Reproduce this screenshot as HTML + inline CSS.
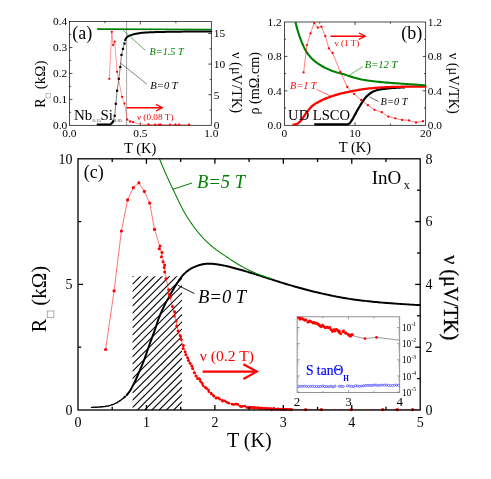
<!DOCTYPE html>
<html><head><meta charset="utf-8"><title>figure</title>
<style>
html,body{margin:0;padding:0;background:#fff;}
body{width:491px;height:479px;overflow:hidden;font-family:"Liberation Serif",serif;}
svg{display:block;font-family:"Liberation Serif",serif;opacity:0.999;will-change:transform;}
</style></head><body>
<svg width="491" height="479" viewBox="0 0 491 479">
<rect width="491" height="479" fill="#fff"/>
<rect x="69.4" y="21.5" width="141.9" height="103.8" fill="none" stroke="#000" stroke-width="0.7"/>
<line x1="140.35" y1="125.3" x2="140.35" y2="122.3" stroke="#000" stroke-width="0.7" />
<line x1="104.88" y1="125.3" x2="104.88" y2="123.6" stroke="#000" stroke-width="0.7" />
<line x1="175.83" y1="125.3" x2="175.83" y2="123.6" stroke="#000" stroke-width="0.7" />
<line x1="140.35" y1="21.5" x2="140.35" y2="24.5" stroke="#000" stroke-width="0.7" />
<line x1="104.88" y1="21.5" x2="104.88" y2="23.2" stroke="#000" stroke-width="0.7" />
<line x1="175.83" y1="21.5" x2="175.83" y2="23.2" stroke="#000" stroke-width="0.7" />
<line x1="69.4" y1="99.35" x2="72.4" y2="99.35" stroke="#000" stroke-width="0.7" />
<line x1="69.4" y1="73.4" x2="72.4" y2="73.4" stroke="#000" stroke-width="0.7" />
<line x1="69.4" y1="47.45" x2="72.4" y2="47.45" stroke="#000" stroke-width="0.7" />
<line x1="69.4" y1="112.33" x2="71.1" y2="112.33" stroke="#000" stroke-width="0.7" />
<line x1="69.4" y1="86.38" x2="71.1" y2="86.38" stroke="#000" stroke-width="0.7" />
<line x1="69.4" y1="60.42" x2="71.1" y2="60.42" stroke="#000" stroke-width="0.7" />
<line x1="69.4" y1="34.48" x2="71.1" y2="34.48" stroke="#000" stroke-width="0.7" />
<line x1="211.3" y1="94.7" x2="208.3" y2="94.7" stroke="#000" stroke-width="0.7" />
<line x1="211.3" y1="64.1" x2="208.3" y2="64.1" stroke="#000" stroke-width="0.7" />
<line x1="211.3" y1="33.5" x2="208.3" y2="33.5" stroke="#000" stroke-width="0.7" />
<line x1="211.3" y1="110" x2="209.6" y2="110" stroke="#000" stroke-width="0.7" />
<line x1="211.3" y1="79.4" x2="209.6" y2="79.4" stroke="#000" stroke-width="0.7" />
<line x1="211.3" y1="48.8" x2="209.6" y2="48.8" stroke="#000" stroke-width="0.7" />
<text x="67.2" y="129.1" font-size="11.4" fill="#000" text-anchor="end"  >0.0</text>
<text x="67.2" y="103.15" font-size="11.4" fill="#000" text-anchor="end"  >0.1</text>
<text x="67.2" y="77.2" font-size="11.4" fill="#000" text-anchor="end"  >0.2</text>
<text x="67.2" y="51.25" font-size="11.4" fill="#000" text-anchor="end"  >0.3</text>
<text x="67.2" y="25.3" font-size="11.4" fill="#000" text-anchor="end"  >0.4</text>
<text x="69.4" y="137.4" font-size="11.4" fill="#000" text-anchor="middle"  >0.0</text>
<text x="140.35" y="137.4" font-size="11.4" fill="#000" text-anchor="middle"  >0.5</text>
<text x="211.3" y="137.4" font-size="11.4" fill="#000" text-anchor="middle"  >1.0</text>
<text x="213.8" y="129.1" font-size="11.4" fill="#000" text-anchor="start"  >0</text>
<text x="213.8" y="98.5" font-size="11.4" fill="#000" text-anchor="start"  >5</text>
<text x="213.8" y="67.9" font-size="11.4" fill="#000" text-anchor="start"  >10</text>
<text x="213.8" y="37.3" font-size="11.4" fill="#000" text-anchor="start"  >15</text>
<text x="140.2" y="152.6" font-size="14.5" fill="#000" text-anchor="middle"  >T (K)</text>
<g transform="translate(44.8,107.7) rotate(-90)"><text x="0" y="0" font-size="14">R</text><rect x="9.8" y="1.2" width="4.6" height="4.6" fill="none" stroke="#999" stroke-width="0.6"/><text x="18.5" y="0" font-size="14.3" textLength="28.6" lengthAdjust="spacingAndGlyphs">(kΩ)</text></g>
<g transform="translate(231.6,52) rotate(90)"><text x="0" y="0" font-size="14.4">ν (μV/TK)</text></g>
<line x1="126.6" y1="21.5" x2="126.6" y2="125.3" stroke="#000" stroke-width="0.6" stroke-dasharray="1.2,0.8"/>
<path d="M97.1,29.2 L211.3,29.5" stroke="#008000" stroke-width="1.7" fill="none" />
<path d="M125.1,40.3 L125.64,38.88 L126.5,37.65 L127.63,36.69 L128.95,35.94 L130.35,35.34 L131.76,34.85 L133.2,34.4 L134.67,34.02 L136.15,33.7 L137.62,33.45 L139.11,33.22 L140.6,33.02 L142.1,32.85 L143.6,32.7 L145.1,32.59 L146.6,32.5 L148.1,32.42 L149.61,32.35 L151.11,32.28 L152.61,32.22 L154.12,32.17 L155.62,32.12 L157.13,32.07 L158.64,32.03 L160.14,32 L161.64,31.96 L163.15,31.93 L164.65,31.9 L166.16,31.87 L167.66,31.84 L169.17,31.81 L170.67,31.79 L172.18,31.76 L173.68,31.74 L175.19,31.72 L176.69,31.7 L178.19,31.68 L179.7,31.66 L181.2,31.64 L182.71,31.62 L184.21,31.61 L185.72,31.59 L187.22,31.58 L188.73,31.56 L190.23,31.55 L191.74,31.53 L193.24,31.52 L194.75,31.51 L196.25,31.49 L197.76,31.48 L199.26,31.47 L200.77,31.46 L202.27,31.45 L203.78,31.44 L205.28,31.43 L206.79,31.42 L208.29,31.41 L209.8,31.41 L211.3,31.4" stroke="#000" stroke-width="2.0" fill="none" stroke-linecap="round"/>
<path d="M112,124.3 L113.1,121.4 L114.7,115.8 L115.8,103.8 L117.1,90.7 L118.8,78.8 L120.3,67 L121.5,54.9 L123,48.9 L124.5,43.5" stroke="#000" stroke-width="0.5" fill="none" />
<rect x="112" y="120.3" width="2.2" height="2.2" fill="#000"/>
<rect x="113.6" y="114.7" width="2.2" height="2.2" fill="#000"/>
<rect x="114.7" y="102.7" width="2.2" height="2.2" fill="#000"/>
<rect x="116" y="89.6" width="2.2" height="2.2" fill="#000"/>
<rect x="117.7" y="77.7" width="2.2" height="2.2" fill="#000"/>
<rect x="119.2" y="65.9" width="2.2" height="2.2" fill="#000"/>
<rect x="120.4" y="53.8" width="2.2" height="2.2" fill="#000"/>
<rect x="121.9" y="47.8" width="2.2" height="2.2" fill="#000"/>
<rect x="123.4" y="42.4" width="2.2" height="2.2" fill="#000"/>
<path d="M96.8,124.4 L110.5,124.4 L113.2,121.5" stroke="#000" stroke-width="2.0" fill="none" stroke-linejoin="round"/>
<path d="M109.3,78.8 L111.8,31.8 L113.1,45.1 L114.7,41.6 L117.1,71.8 L122,96.8 L124.5,103.6 L127.2,119.6 L130.2,121.5 L133.1,122.2 L138,123.5 L143,124.2 L148.5,124.5 L155.2,124.6 L158.9,124.6 L160.7,124.6 L169.9,124.7 L175.4,124.7 L179.1,124.7 L189.1,124.7" stroke="#ff0000" stroke-width="0.4" fill="none" />
<circle cx="109.3" cy="78.8" r="1.15" fill="#ff0000"/>
<circle cx="111.8" cy="31.8" r="1.15" fill="#ff0000"/>
<circle cx="113.1" cy="45.1" r="1.15" fill="#ff0000"/>
<circle cx="114.7" cy="41.6" r="1.15" fill="#ff0000"/>
<circle cx="117.1" cy="71.8" r="1.15" fill="#ff0000"/>
<circle cx="122" cy="96.8" r="1.15" fill="#ff0000"/>
<circle cx="124.5" cy="103.6" r="1.15" fill="#ff0000"/>
<circle cx="127.2" cy="119.6" r="1.15" fill="#ff0000"/>
<circle cx="130.2" cy="121.5" r="1.15" fill="#ff0000"/>
<circle cx="133.1" cy="122.2" r="1.15" fill="#ff0000"/>
<circle cx="148.5" cy="124.5" r="1.15" fill="#ff0000"/>
<circle cx="155.2" cy="124.6" r="1.15" fill="#ff0000"/>
<circle cx="158.9" cy="124.6" r="1.15" fill="#ff0000"/>
<circle cx="160.7" cy="124.6" r="1.15" fill="#ff0000"/>
<circle cx="169.9" cy="124.7" r="1.15" fill="#ff0000"/>
<circle cx="175.4" cy="124.7" r="1.15" fill="#ff0000"/>
<circle cx="179.1" cy="124.7" r="1.15" fill="#ff0000"/>
<circle cx="189.1" cy="124.7" r="1.15" fill="#ff0000"/>
<line x1="122.8" y1="30" x2="145.3" y2="50.4" stroke="#008000" stroke-width="0.6" />
<line x1="120.4" y1="63" x2="147" y2="84.2" stroke="#333" stroke-width="0.6" />
<text x="149.6" y="54.7" font-size="10.2" fill="#008000" text-anchor="start" font-style="italic" >B=1.5 T</text>
<text x="150.3" y="89.2" font-size="10.6" fill="#000" text-anchor="start" font-style="italic" >B=0 T</text>
<text x="136.9" y="119.6" font-size="9.2" fill="#ff0000" text-anchor="start"  >ν (0.08 T)</text>
<line x1="126.6" y1="107.7" x2="161.4" y2="107.7" stroke="#ff0000" stroke-width="1.5" />
<path d="M156,104.4 L162.3,107.7 L156,111" stroke="#ff0000" stroke-width="1.3" fill="none" />
<text x="72.3" y="38.6" font-size="18" fill="#000" text-anchor="start"  >(a)</text>
<text x="74" y="120.3" font-size="15">Nb<tspan font-size="4.9" dy="1.2" dx="0.1" fill="#333">0.15</tspan><tspan dy="-1.2" dx="-0.6">Si</tspan><tspan font-size="4.9" dy="1.2" dx="0.9" fill="#333">0.85</tspan></text>
<rect x="284.4" y="22" width="141.3" height="103.3" fill="none" stroke="#000" stroke-width="0.7"/>
<line x1="355.05" y1="125.3" x2="355.05" y2="122.3" stroke="#000" stroke-width="0.7" />
<line x1="319.72" y1="125.3" x2="319.72" y2="123.6" stroke="#000" stroke-width="0.7" />
<line x1="390.38" y1="125.3" x2="390.38" y2="123.6" stroke="#000" stroke-width="0.7" />
<line x1="355.05" y1="22" x2="355.05" y2="25" stroke="#000" stroke-width="0.7" />
<line x1="319.72" y1="22" x2="319.72" y2="23.7" stroke="#000" stroke-width="0.7" />
<line x1="390.38" y1="22" x2="390.38" y2="23.7" stroke="#000" stroke-width="0.7" />
<line x1="284.4" y1="90.87" x2="287.4" y2="90.87" stroke="#000" stroke-width="0.7" />
<line x1="284.4" y1="56.43" x2="287.4" y2="56.43" stroke="#000" stroke-width="0.7" />
<line x1="284.4" y1="108.08" x2="286.1" y2="108.08" stroke="#000" stroke-width="0.7" />
<line x1="284.4" y1="73.65" x2="286.1" y2="73.65" stroke="#000" stroke-width="0.7" />
<line x1="284.4" y1="39.22" x2="286.1" y2="39.22" stroke="#000" stroke-width="0.7" />
<line x1="425.7" y1="90.87" x2="422.7" y2="90.87" stroke="#000" stroke-width="0.7" />
<line x1="425.7" y1="56.43" x2="422.7" y2="56.43" stroke="#000" stroke-width="0.7" />
<line x1="425.7" y1="108.08" x2="424" y2="108.08" stroke="#000" stroke-width="0.7" />
<line x1="425.7" y1="73.65" x2="424" y2="73.65" stroke="#000" stroke-width="0.7" />
<line x1="425.7" y1="39.22" x2="424" y2="39.22" stroke="#000" stroke-width="0.7" />
<text x="281.8" y="129.1" font-size="11.4" fill="#000" text-anchor="end"  >0.0</text>
<text x="427.8" y="129.1" font-size="11.4" fill="#000" text-anchor="start"  >0.0</text>
<text x="281.8" y="94.67" font-size="11.4" fill="#000" text-anchor="end"  >0.4</text>
<text x="427.8" y="94.67" font-size="11.4" fill="#000" text-anchor="start"  >0.4</text>
<text x="281.8" y="60.23" font-size="11.4" fill="#000" text-anchor="end"  >0.8</text>
<text x="427.8" y="60.23" font-size="11.4" fill="#000" text-anchor="start"  >0.8</text>
<text x="281.8" y="25.8" font-size="11.4" fill="#000" text-anchor="end"  >1.2</text>
<text x="427.8" y="25.8" font-size="11.4" fill="#000" text-anchor="start"  >1.2</text>
<text x="284.4" y="137.4" font-size="11.4" fill="#000" text-anchor="middle"  >0</text>
<text x="355.05" y="137.4" font-size="11.4" fill="#000" text-anchor="middle"  >10</text>
<text x="425.7" y="137.4" font-size="11.4" fill="#000" text-anchor="middle"  >20</text>
<text x="355" y="152.2" font-size="14.5" fill="#000" text-anchor="middle"  >T (K)</text>
<g transform="translate(258.6,114.6) rotate(-90)"><text x="0" y="0" font-size="14.2">ρ (mΩ.cm)</text></g>
<g transform="translate(449.4,52.7) rotate(90)"><text x="0" y="0" font-size="14.4">ν (μV/TK)</text></g>
<path d="M314.2,124.3 L315.67,124.3 L317.13,124.3 L318.58,124.3 L320.02,124.3 L321.45,124.3 L322.87,124.3 L324.28,124.3 L325.67,124.3 L327.06,124.3 L328.44,124.3 L329.82,124.3 L331.18,124.3 L332.53,124.3 L333.88,124.3 L335.22,124.3 L336.55,124.3 L337.88,124.3 L339.2,124.3 L340.52,124.3 L341.82,124.3 L343.13,124.3 L344.43,124.3 L345.72,124.3 L347.01,124.3 L348.31,124.11 L349.51,123.39 L350.41,122.45 L351.18,121.25 L351.91,120.07 L352.63,118.91 L353.31,117.74 L353.97,116.54 L354.62,115.33 L355.26,114.12 L355.9,112.91 L356.55,111.71 L357.21,110.51 L357.9,109.33 L358.61,108.16 L359.31,106.98 L360.02,105.8 L360.73,104.61 L361.46,103.43 L362.19,102.26 L362.95,101.11 L363.73,99.98 L364.54,98.9 L365.38,97.85 L366.26,96.85 L367.19,95.88 L368.21,94.94 L369.27,94.05 L370.38,93.23 L371.51,92.51 L372.7,91.84 L373.94,91.22 L375.22,90.69 L376.5,90.29 L377.81,89.96 L379.15,89.68 L380.51,89.43 L381.87,89.21 L383.22,89.01 L384.57,88.82 L385.92,88.64 L387.28,88.48 L388.64,88.33 L390,88.19 L391.36,88.08 L392.72,87.98 L394.08,87.89 L395.44,87.8 L396.81,87.72 L398.17,87.64 L399.53,87.57 L400.9,87.51 L402.27,87.46 L403.63,87.42 L405,87.4" stroke="#000" stroke-width="2.2" fill="none" stroke-linejoin="round"/>
<path d="M293.4,124.6 L295.24,124.38 L296.93,123.86 L298.53,122.87 L299.91,121.72 L301.1,120.44 L302.18,118.99 L303.2,117.43 L304.19,115.84 L305.22,114.29 L306.32,112.82 L307.46,111.37 L308.6,109.92 L309.79,108.49 L311.02,107.15 L312.32,105.94 L313.71,104.85 L315.2,103.83 L316.77,102.88 L318.39,101.98 L320.04,101.13 L321.69,100.33 L323.34,99.57 L325,98.84 L326.68,98.14 L328.39,97.48 L330.11,96.84 L331.83,96.24 L333.57,95.67 L335.31,95.13 L337.05,94.62 L338.81,94.14 L340.57,93.68 L342.34,93.24 L344.12,92.83 L345.9,92.43 L347.69,92.05 L349.47,91.68 L351.26,91.32 L353.04,90.96 L354.84,90.61 L356.63,90.28 L358.43,89.96 L360.23,89.65 L362.03,89.37 L363.83,89.11 L365.64,88.88 L367.44,88.67 L369.25,88.48 L371.07,88.29 L372.88,88.11 L374.7,87.95 L376.52,87.8 L378.33,87.66 L380.15,87.54 L381.97,87.43 L383.79,87.34 L385.61,87.25 L387.43,87.16 L389.25,87.08 L391.08,87.01 L392.9,86.94 L394.72,86.89 L396.54,86.84 L398.36,86.81 L400.19,86.78 L402.01,86.76 L403.83,86.74 L405.65,86.72 L407.47,86.7 L409.3,86.68 L411.12,86.67 L412.94,86.65 L414.76,86.64 L416.59,86.63 L418.41,86.62 L420.23,86.61 L422.05,86.6 L423.88,86.6 L425.7,86.6" stroke="#ff0000" stroke-width="2.3" fill="none" stroke-linecap="round"/>
<path d="M295.5,22 L295.94,23.97 L296.42,25.94 L296.93,27.89 L297.47,29.83 L298.04,31.76 L298.64,33.69 L299.29,35.61 L299.96,37.51 L300.67,39.41 L301.41,41.28 L302.19,43.14 L302.99,45 L303.83,46.86 L304.72,48.7 L305.67,50.48 L306.69,52.18 L307.82,53.82 L309.05,55.42 L310.39,56.98 L311.8,58.47 L313.26,59.89 L314.77,61.21 L316.31,62.43 L317.95,63.6 L319.65,64.71 L321.41,65.76 L323.19,66.76 L324.99,67.69 L326.79,68.57 L328.62,69.41 L330.49,70.19 L332.38,70.93 L334.28,71.62 L336.19,72.25 L338.13,72.81 L340.08,73.31 L342.04,73.81 L343.99,74.34 L345.92,74.94 L347.81,75.64 L349.72,76.31 L351.65,76.88 L353.59,77.44 L355.54,77.97 L357.5,78.48 L359.47,78.96 L361.44,79.41 L363.42,79.81 L365.4,80.16 L367.39,80.46 L369.38,80.74 L371.37,81 L373.37,81.25 L375.38,81.48 L377.39,81.69 L379.4,81.89 L381.41,82.09 L383.43,82.27 L385.44,82.45 L387.46,82.63 L389.47,82.8 L391.48,82.96 L393.49,83.12 L395.5,83.28 L397.51,83.42 L399.53,83.56 L401.54,83.69 L403.56,83.82 L405.57,83.95 L407.58,84.08 L409.6,84.21 L411.61,84.35 L413.63,84.49 L415.64,84.63 L417.65,84.78 L419.66,84.93 L421.68,85.09 L423.69,85.24 L425.7,85.4" stroke="#008000" stroke-width="2.1" fill="none" />
<path d="M303.6,72.4 L306.9,45.1 L310.5,33.4 L314.2,23.1 L317.8,27.7 L321.5,26.7 L325.3,36.2 L328.9,48.4 L332.6,53 L340.4,72 L347.3,87 L354.1,94 L361.1,100 L367.9,105.2 L374.4,109.8 L381.8,112.2 L388.3,116.6 L395.3,118.3 L402.1,119.9 L409,120.4 L416,122.5 L423,121.2" stroke="#ff0000" stroke-width="0.5" fill="none" />
<circle cx="303.6" cy="72.4" r="1.15" fill="#ff0000"/>
<circle cx="306.9" cy="45.1" r="1.15" fill="#ff0000"/>
<circle cx="310.5" cy="33.4" r="1.15" fill="#ff0000"/>
<circle cx="314.2" cy="23.1" r="1.15" fill="#ff0000"/>
<circle cx="317.8" cy="27.7" r="1.15" fill="#ff0000"/>
<circle cx="321.5" cy="26.7" r="1.15" fill="#ff0000"/>
<circle cx="325.3" cy="36.2" r="1.15" fill="#ff0000"/>
<circle cx="328.9" cy="48.4" r="1.15" fill="#ff0000"/>
<circle cx="332.6" cy="53" r="1.15" fill="#ff0000"/>
<circle cx="340.4" cy="72" r="1.15" fill="#ff0000"/>
<circle cx="347.3" cy="87" r="1.15" fill="#ff0000"/>
<circle cx="354.1" cy="94" r="1.15" fill="#ff0000"/>
<circle cx="361.1" cy="100" r="1.15" fill="#ff0000"/>
<circle cx="367.9" cy="105.2" r="1.15" fill="#ff0000"/>
<circle cx="374.4" cy="109.8" r="1.15" fill="#ff0000"/>
<circle cx="381.8" cy="112.2" r="1.15" fill="#ff0000"/>
<circle cx="388.3" cy="116.6" r="1.15" fill="#ff0000"/>
<circle cx="395.3" cy="118.3" r="1.15" fill="#ff0000"/>
<circle cx="402.1" cy="119.9" r="1.15" fill="#ff0000"/>
<circle cx="409" cy="120.4" r="1.15" fill="#ff0000"/>
<circle cx="416" cy="122.5" r="1.15" fill="#ff0000"/>
<circle cx="423" cy="121.2" r="1.15" fill="#ff0000"/>
<line x1="330.5" y1="36.2" x2="364.6" y2="36.2" stroke="#ff0000" stroke-width="1.4" />
<path d="M358.8,33 L365.4,36.2 L358.8,39.4" stroke="#ff0000" stroke-width="1.2" fill="none" />
<text x="334.6" y="45.5" font-size="9" fill="#ff0000" text-anchor="start"  >ν (1 T)</text>
<text x="364.7" y="67.9" font-size="10.6" fill="#008000" text-anchor="start" font-style="italic" >B=12 T</text>
<line x1="362.9" y1="66.6" x2="348" y2="76" stroke="#008000" stroke-width="0.6" />
<text x="290.1" y="89.4" font-size="10.2" fill="#ff0000" text-anchor="start" font-style="italic" >B=1 T</text>
<line x1="316.6" y1="89.4" x2="331.3" y2="96.3" stroke="#ff0000" stroke-width="0.6" />
<text x="380.6" y="104.6" font-size="10.4" fill="#000" text-anchor="start" font-style="italic" >B=0 T</text>
<line x1="369.5" y1="96.8" x2="378.5" y2="101.6" stroke="#000" stroke-width="0.6" />
<text x="401.3" y="39.4" font-size="18" fill="#000" text-anchor="start"  >(b)</text>
<text x="288.1" y="119.6" font-size="14.6" fill="#000" text-anchor="start"  >UD LSCO</text>
<clipPath id="hc"><rect x="132.4" y="276.2" width="49.599999999999994" height="133.8"/></clipPath>
<g clip-path="url(#hc)" stroke="#000" stroke-width="1.1">
<line x1="132.4" y1="269.78" x2="182.0" y2="220.18"/>
<line x1="132.4" y1="277.04" x2="182.0" y2="227.44"/>
<line x1="132.4" y1="284.3" x2="182.0" y2="234.7"/>
<line x1="132.4" y1="291.56" x2="182.0" y2="241.96"/>
<line x1="132.4" y1="298.82" x2="182.0" y2="249.22"/>
<line x1="132.4" y1="306.08" x2="182.0" y2="256.48"/>
<line x1="132.4" y1="313.34" x2="182.0" y2="263.74"/>
<line x1="132.4" y1="320.6" x2="182.0" y2="271"/>
<line x1="132.4" y1="327.86" x2="182.0" y2="278.26"/>
<line x1="132.4" y1="335.12" x2="182.0" y2="285.52"/>
<line x1="132.4" y1="342.38" x2="182.0" y2="292.78"/>
<line x1="132.4" y1="349.64" x2="182.0" y2="300.04"/>
<line x1="132.4" y1="356.9" x2="182.0" y2="307.3"/>
<line x1="132.4" y1="364.16" x2="182.0" y2="314.56"/>
<line x1="132.4" y1="371.42" x2="182.0" y2="321.82"/>
<line x1="132.4" y1="378.68" x2="182.0" y2="329.08"/>
<line x1="132.4" y1="385.94" x2="182.0" y2="336.34"/>
<line x1="132.4" y1="393.2" x2="182.0" y2="343.6"/>
<line x1="132.4" y1="400.46" x2="182.0" y2="350.86"/>
<line x1="132.4" y1="407.72" x2="182.0" y2="358.12"/>
<line x1="132.4" y1="414.98" x2="182.0" y2="365.38"/>
<line x1="132.4" y1="422.24" x2="182.0" y2="372.64"/>
<line x1="132.4" y1="429.5" x2="182.0" y2="379.9"/>
<line x1="132.4" y1="436.76" x2="182.0" y2="387.16"/>
<line x1="132.4" y1="444.02" x2="182.0" y2="394.42"/>
<line x1="132.4" y1="451.28" x2="182.0" y2="401.68"/>
<line x1="132.4" y1="458.54" x2="182.0" y2="408.94"/>
<line x1="132.4" y1="465.8" x2="182.0" y2="416.2"/>
</g>
<path d="M91.5,407.4 L92.53,407.37 L93.56,407.33 L94.59,407.28 L95.62,407.23 L96.65,407.18 L97.67,407.12 L98.7,407.06 L99.73,406.99 L100.76,406.92 L101.79,406.84 L102.81,406.75 L103.83,406.64 L104.86,406.5 L105.87,406.32 L106.89,406.13 L107.9,405.92 L108.9,405.69 L109.89,405.42 L110.88,405.13 L111.86,404.81 L112.83,404.47 L113.8,404.1 L114.75,403.69 L115.68,403.26 L116.59,402.79 L117.49,402.28 L118.37,401.74 L119.23,401.18 L120.09,400.6 L120.93,400.01 L121.76,399.39 L122.58,398.76 L123.38,398.11 L124.16,397.45 L124.92,396.76 L125.67,396.05 L126.4,395.32 L127.11,394.57 L127.8,393.8" stroke="#000" stroke-width="1.45" fill="none" stroke-linecap="round"/>
<path d="M124.1,397.5 L125.54,396.21 L126.89,394.83 L128.14,393.39 L129.3,391.86 L130.37,390.25 L131.32,388.59 L132.2,386.88 L133.08,385.17 L133.95,383.45 L134.81,381.73 L135.64,380 L136.45,378.26 L137.24,376.51 L138,374.74 L138.75,372.97 L139.49,371.2 L140.24,369.43 L140.99,367.66 L141.74,365.89 L142.48,364.11 L143.19,362.33 L143.88,360.54 L144.55,358.74 L145.2,356.93 L145.84,355.12 L146.48,353.31 L147.1,351.49 L147.73,349.67 L148.35,347.85 L148.98,346.04 L149.62,344.22 L150.27,342.41 L150.93,340.61 L151.6,338.81 L152.27,337.01 L152.94,335.21 L153.61,333.4 L154.27,331.6 L154.92,329.79 L155.55,327.98 L156.15,326.15 L156.73,324.31 L157.32,322.48 L157.91,320.65 L158.54,318.84 L159.22,317.05 L159.94,315.27 L160.71,313.51 L161.5,311.75 L162.31,310.01 L163.11,308.26 L163.91,306.51 L164.72,304.76 L165.58,303.05 L166.51,301.37 L167.5,299.72 L168.48,298.07 L169.41,296.39 L170.33,294.7 L171.25,293.01 L172.19,291.34 L173.16,289.67 L174.13,288.02 L175.12,286.37 L176.13,284.73 L177.16,283.11 L178.22,281.51 L179.29,279.9 L180.39,278.31 L181.54,276.77 L182.76,275.31 L184.1,273.93 L185.52,272.62 L186.97,271.37 L188.49,270.18 L190.1,269.15 L191.79,268.23 L193.53,267.39 L195.29,266.61 L197.07,265.9 L198.89,265.28 L200.74,264.71 L202.61,264.3 L204.51,264.01 L206.42,263.79 L208.34,263.7 L210.26,263.74 L212.19,263.82 L214.1,263.94 L216.01,264.16 L217.91,264.45 L219.81,264.75 L221.7,265.09 L223.59,265.48 L225.47,265.88 L227.34,266.3 L229.21,266.75 L231.07,267.22 L232.93,267.7 L234.79,268.19 L236.65,268.69 L238.5,269.21 L240.35,269.73 L242.19,270.27 L244.04,270.81 L245.88,271.36 L247.72,271.91 L249.56,272.47 L251.4,273.03 L253.23,273.6 L255.07,274.17 L256.9,274.75 L258.73,275.33 L260.56,275.91 L262.39,276.5 L264.22,277.08 L266.05,277.67 L267.88,278.26 L269.71,278.85 L271.54,279.44 L273.37,280.03 L275.2,280.61 L277.04,281.19 L278.87,281.76 L280.71,282.32 L282.54,282.89 L284.38,283.45 L286.22,284 L288.06,284.56 L289.9,285.11 L291.75,285.65 L293.59,286.19 L295.44,286.72 L297.29,287.25 L299.14,287.76 L300.99,288.27 L302.85,288.77 L304.7,289.28 L306.56,289.77 L308.42,290.26 L310.28,290.74 L312.14,291.21 L314.01,291.68 L315.88,292.13 L317.75,292.57 L319.62,292.99 L321.49,293.41 L323.37,293.83 L325.25,294.25 L327.13,294.66 L329.01,295.07 L330.89,295.46 L332.77,295.86 L334.66,296.24 L336.54,296.62 L338.43,296.98 L340.32,297.33 L342.21,297.67 L344.11,298 L346,298.31 L347.9,298.61 L349.79,298.89 L351.69,299.17 L353.59,299.43 L355.5,299.69 L357.4,299.95 L359.31,300.19 L361.22,300.43 L363.13,300.66 L365.04,300.89 L366.95,301.1 L368.86,301.31 L370.77,301.52 L372.69,301.71 L374.6,301.91 L376.51,302.09 L378.42,302.27 L380.34,302.44 L382.25,302.6 L384.17,302.75 L386.08,302.91 L388,303.05 L389.92,303.19 L391.83,303.33 L393.75,303.47 L395.67,303.6 L397.59,303.73 L399.5,303.87 L401.42,304 L403.34,304.13 L405.25,304.25 L407.17,304.38 L409.09,304.5 L411.01,304.63 L412.93,304.75 L414.84,304.86 L416.76,304.98 L418.68,305.09 L420.6,305.2" stroke="#000" stroke-width="1.95" fill="none" />
<line x1="125.1" y1="395.3" x2="127" y2="397.2" stroke="#fff" stroke-width="0.9" />
<path d="M159.5,158.8 L160.03,160.14 L160.57,161.48 L161.12,162.82 L161.66,164.15 L162.22,165.49 L162.78,166.82 L163.34,168.15 L163.91,169.48 L164.48,170.8 L165.06,172.12 L165.64,173.45 L166.23,174.77 L166.82,176.08 L167.41,177.4 L168.01,178.71 L168.61,180.03 L169.21,181.34 L169.82,182.65 L170.43,183.96 L171.04,185.27 L171.66,186.57 L172.28,187.88 L172.9,189.18 L173.52,190.48 L174.14,191.78 L174.77,193.09 L175.4,194.39 L176.02,195.69 L176.65,196.99 L177.28,198.29 L177.91,199.59 L178.54,200.89 L179.17,202.19 L179.8,203.49 L180.43,204.79 L181.07,206.08 L181.72,207.37 L182.38,208.66 L183.05,209.93 L183.73,211.2 L184.44,212.46 L185.16,213.72 L185.89,214.96 L186.65,216.19 L187.41,217.41 L188.2,218.63 L188.99,219.83 L189.79,221.03 L190.61,222.23 L191.43,223.42 L192.26,224.6 L193.1,225.78 L193.95,226.94 L194.81,228.1 L195.68,229.26 L196.56,230.4 L197.46,231.53 L198.37,232.65 L199.29,233.76 L200.23,234.86 L201.19,235.94 L202.15,237.01 L203.14,238.07 L204.13,239.12 L205.15,240.15 L206.17,241.17 L207.21,242.17 L208.27,243.15 L209.34,244.13 L210.42,245.08 L211.52,246.01 L212.64,246.93 L213.77,247.83 L214.91,248.71 L216.07,249.58 L217.23,250.43 L218.41,251.27 L219.59,252.1 L220.77,252.92 L221.96,253.74 L223.16,254.56 L224.35,255.37 L225.55,256.19 L226.74,257 L227.94,257.81 L229.14,258.61 L230.34,259.41 L231.55,260.21 L232.75,261 L233.97,261.78 L235.19,262.55 L236.42,263.31 L237.65,264.06 L238.89,264.79 L240.14,265.51 L241.4,266.22 L242.67,266.91 L243.94,267.59 L245.23,268.26 L246.51,268.91 L247.81,269.55 L249.11,270.18 L250.42,270.79 L251.73,271.4 L253.05,271.98 L254.38,272.56 L255.71,273.12 L257.04,273.67 L258.38,274.21 L259.73,274.74 L261.07,275.25 L262.43,275.76 L263.78,276.25 L265.15,276.73 L266.51,277.21 L267.88,277.67 L269.25,278.12 L270.62,278.57 L272,279" stroke="#008000" stroke-width="1.05" fill="none" />
<path d="M105.6,349.5 L114.1,290.8 L121.4,231 L127.6,199.9 L133.4,187.6 L138.9,182.8 L144.4,191.4 L149.7,203.1 L154.5,229.4" stroke="#ff0000" stroke-width="0.55" fill="none" />
<path d="M154.5,229.4 L155.12,231.25 L155.72,233.1 L156.32,234.96 L156.9,236.82 L157.47,238.69 L158.03,240.55 L158.58,242.42 L159.12,244.29 L159.65,246.17 L160.16,248.05 L160.66,249.93 L161.14,251.82 L161.63,253.71 L162.12,255.6 L162.63,257.48 L163.12,259.37 L163.56,261.27 L163.91,263.18 L164.19,265.1 L164.44,267.04 L164.68,268.98 L164.94,270.91 L165.25,272.83 L165.6,274.75 L165.96,276.66 L166.34,278.58 L166.71,280.49 L167.07,282.41 L167.42,284.33 L167.75,286.25 L168.08,288.17 L168.42,290.09 L168.78,292.01 L169.17,293.91 L169.6,295.81 L170.09,297.69 L170.61,299.57 L171.15,301.45 L171.69,303.32 L172.22,305.2 L172.73,307.08 L173.21,308.97 L173.7,310.86 L174.17,312.75 L174.64,314.64 L175.09,316.54 L175.52,318.44 L175.92,320.35 L176.3,322.26 L176.68,324.18 L177.07,326.09 L177.48,327.99 L177.94,329.88 L178.46,331.75 L179.07,333.6 L179.72,335.44 L180.39,337.27 L181.04,339.12 L181.64,340.97 L182.21,342.84 L182.77,344.7 L183.35,346.56 L183.97,348.41 L184.62,350.25 L185.3,352.08 L186,353.9 L186.74,355.7 L187.51,357.49 L188.33,359.25 L189.21,360.99 L190.12,362.72 L191.04,364.44 L191.94,366.17 L192.79,367.92 L193.62,369.69 L194.46,371.46 L195.33,373.2 L196.27,374.9 L197.27,376.56 L198.33,378.2 L199.43,379.82 L200.57,381.41 L201.73,382.98 L202.91,384.52 L204.14,386.03 L205.4,387.52 L206.7,388.98 L208.03,390.41 L209.37,391.83 L210.73,393.27 L212.13,394.65 L213.6,395.91 L215.15,397 L216.82,397.99 L218.56,398.9 L220.35,399.73 L222.15,400.51 L223.95,401.24 L225.78,401.93 L227.63,402.57 L229.49,403.15 L231.36,403.68 L233.24,404.17 L235.14,404.62 L237.05,405.05 L238.96,405.44 L240.88,405.8 L242.79,406.13 L244.72,406.43 L246.65,406.72 L248.58,406.99 L250.51,407.23 L252.45,407.46 L254.39,407.67 L256.33,407.87 L258.27,408.05 L260.21,408.22 L262.15,408.36 L264.1,408.5 L266.04,408.62 L267.99,408.73 L269.94,408.83 L271.88,408.92 L273.83,408.99 L275.78,409.07 L277.73,409.14 L279.67,409.2 L281.62,409.25 L283.57,409.29 L285.52,409.33 L287.47,409.36 L289.42,409.39 L291.37,409.42 L293.31,409.44 L295.26,409.46 L297.21,409.48 L299.16,409.49 L301.11,409.51 L303.06,409.52 L305.01,409.53 L306.96,409.53 L308.91,409.54 L310.86,409.55 L312.8,409.56 L314.75,409.56 L316.7,409.57 L318.65,409.57 L320.6,409.58 L322.55,409.58 L324.5,409.59 L326.45,409.59 L328.4,409.6 L330.35,409.6 L332.29,409.6 L334.24,409.61 L336.19,409.61 L338.14,409.61 L340.09,409.62 L342.04,409.62 L343.99,409.62 L345.94,409.63 L347.89,409.63 L349.84,409.63 L351.78,409.64 L353.73,409.64 L355.68,409.64 L357.63,409.65 L359.58,409.65 L361.53,409.65 L363.48,409.66 L365.43,409.66 L367.38,409.66 L369.33,409.66 L371.27,409.67 L373.22,409.67 L375.17,409.67 L377.12,409.67 L379.07,409.68 L381.02,409.68 L382.97,409.68 L384.92,409.68 L386.87,409.68 L388.82,409.69 L390.76,409.69 L392.71,409.69 L394.66,409.69 L396.61,409.69 L398.56,409.69 L400.51,409.69 L402.46,409.7 L404.41,409.7 L406.36,409.7 L408.31,409.7 L410.25,409.7 L412.2,409.7 L414.15,409.7 L416.1,409.7 L418.05,409.7 L420,409.7" stroke="#ff0000" stroke-width="0.55" fill="none" />
<circle cx="105.6" cy="349.5" r="1.6" fill="#ff0000"/>
<circle cx="114.1" cy="290.8" r="1.6" fill="#ff0000"/>
<circle cx="121.4" cy="231" r="1.6" fill="#ff0000"/>
<circle cx="127.6" cy="199.9" r="1.6" fill="#ff0000"/>
<circle cx="133.4" cy="187.6" r="1.6" fill="#ff0000"/>
<circle cx="138.9" cy="182.8" r="1.6" fill="#ff0000"/>
<circle cx="144.4" cy="191.4" r="1.6" fill="#ff0000"/>
<circle cx="149.7" cy="203.1" r="1.6" fill="#ff0000"/>
<circle cx="154.5" cy="229.4" r="1.6" fill="#ff0000"/>
<circle cx="160" cy="245.9" r="1.5" fill="#ff0000"/>
<circle cx="159.2" cy="248.7" r="1.5" fill="#ff0000"/>
<circle cx="162" cy="252.6" r="1.5" fill="#ff0000"/>
<circle cx="161.4" cy="256.7" r="1.5" fill="#ff0000"/>
<circle cx="163" cy="261.8" r="1.5" fill="#ff0000"/>
<circle cx="164.7" cy="265.1" r="1.5" fill="#ff0000"/>
<circle cx="164.2" cy="267.6" r="1.5" fill="#ff0000"/>
<circle cx="164.7" cy="272.1" r="1.5" fill="#ff0000"/>
<circle cx="165.9" cy="278.8" r="1.5" fill="#ff0000"/>
<circle cx="168.7" cy="289.7" r="1.5" fill="#ff0000"/>
<circle cx="169.2" cy="294.4" r="1.5" fill="#ff0000"/>
<circle cx="170.1" cy="297.2" r="1.5" fill="#ff0000"/>
<circle cx="172.5" cy="306.6" r="1.5" fill="#ff0000"/>
<circle cx="174.6" cy="311.7" r="1.5" fill="#ff0000"/>
<circle cx="174.2" cy="315.9" r="1.5" fill="#ff0000"/>
<circle cx="176.2" cy="320.9" r="1.5" fill="#ff0000"/>
<circle cx="176.7" cy="325.9" r="1.5" fill="#ff0000"/>
<circle cx="178.1" cy="330.9" r="1.5" fill="#ff0000"/>
<circle cx="180.1" cy="335.5" r="1.5" fill="#ff0000"/>
<circle cx="181.2" cy="339.6" r="1.5" fill="#ff0000"/>
<circle cx="183.4" cy="345.5" r="1.5" fill="#ff0000"/>
<circle cx="183.1" cy="348.5" r="1.5" fill="#ff0000"/>
<circle cx="185.1" cy="351.8" r="1.5" fill="#ff0000"/>
<circle cx="185.9" cy="354.8" r="1.5" fill="#ff0000"/>
<circle cx="187.6" cy="357.7" r="1.5" fill="#ff0000"/>
<circle cx="188.4" cy="360.5" r="1.5" fill="#ff0000"/>
<circle cx="190.1" cy="363.2" r="1.5" fill="#ff0000"/>
<circle cx="191.8" cy="366.1" r="1.5" fill="#ff0000"/>
<circle cx="192.6" cy="368.6" r="1.5" fill="#ff0000"/>
<circle cx="194.3" cy="372.7" r="1.5" fill="#ff0000"/>
<circle cx="196" cy="376.1" r="1.5" fill="#ff0000"/>
<circle cx="197.6" cy="378.6" r="1.5" fill="#ff0000"/>
<circle cx="199.4" cy="378.8" r="1.3" fill="#ff0000"/>
<circle cx="199.61" cy="379.17" r="1.3" fill="#ff0000"/>
<circle cx="200.43" cy="381.24" r="1.3" fill="#ff0000"/>
<circle cx="201.53" cy="382.48" r="1.3" fill="#ff0000"/>
<circle cx="202.57" cy="383.9" r="1.3" fill="#ff0000"/>
<circle cx="203.06" cy="385.84" r="1.3" fill="#ff0000"/>
<circle cx="205.14" cy="387.52" r="1.3" fill="#ff0000"/>
<circle cx="205.88" cy="387.86" r="1.3" fill="#ff0000"/>
<circle cx="206.75" cy="388.61" r="1.3" fill="#ff0000"/>
<circle cx="208.6" cy="390.05" r="1.3" fill="#ff0000"/>
<circle cx="208.79" cy="391.7" r="1.3" fill="#ff0000"/>
<circle cx="211.18" cy="393.15" r="1.3" fill="#ff0000"/>
<circle cx="211.26" cy="393.94" r="1.3" fill="#ff0000"/>
<circle cx="213.26" cy="395.33" r="1.3" fill="#ff0000"/>
<circle cx="213.95" cy="396.32" r="1.3" fill="#ff0000"/>
<circle cx="216.03" cy="398.22" r="1.3" fill="#ff0000"/>
<circle cx="216.6" cy="397.89" r="1.3" fill="#ff0000"/>
<circle cx="218.33" cy="397.87" r="1.3" fill="#ff0000"/>
<circle cx="219.84" cy="399.23" r="1.3" fill="#ff0000"/>
<circle cx="222.33" cy="400.32" r="1.3" fill="#ff0000"/>
<circle cx="222.66" cy="401.31" r="1.3" fill="#ff0000"/>
<circle cx="224.81" cy="400.85" r="1.3" fill="#ff0000"/>
<circle cx="226.31" cy="401.95" r="1.3" fill="#ff0000"/>
<circle cx="227.8" cy="402.77" r="1.3" fill="#ff0000"/>
<circle cx="228.81" cy="403.13" r="1.3" fill="#ff0000"/>
<circle cx="231.91" cy="404.09" r="1.3" fill="#ff0000"/>
<circle cx="233.6" cy="404.64" r="1.3" fill="#ff0000"/>
<circle cx="235.42" cy="404.03" r="1.3" fill="#ff0000"/>
<circle cx="236.8" cy="404.07" r="1.3" fill="#ff0000"/>
<circle cx="237.81" cy="404.4" r="1.3" fill="#ff0000"/>
<circle cx="240.22" cy="406.19" r="1.3" fill="#ff0000"/>
<circle cx="241.33" cy="406.69" r="1.3" fill="#ff0000"/>
<circle cx="242.79" cy="406.24" r="1.3" fill="#ff0000"/>
<circle cx="244.84" cy="405.96" r="1.3" fill="#ff0000"/>
<circle cx="246.66" cy="407.57" r="1.3" fill="#ff0000"/>
<circle cx="247.68" cy="407.33" r="1.3" fill="#ff0000"/>
<circle cx="249.76" cy="407.94" r="1.3" fill="#ff0000"/>
<circle cx="251.74" cy="407.65" r="1.3" fill="#ff0000"/>
<circle cx="253.5" cy="407.65" r="1.3" fill="#ff0000"/>
<circle cx="254.27" cy="408.35" r="1.3" fill="#ff0000"/>
<circle cx="255.97" cy="408" r="1.3" fill="#ff0000"/>
<circle cx="258.56" cy="407.68" r="1.3" fill="#ff0000"/>
<circle cx="260.04" cy="408.72" r="1.3" fill="#ff0000"/>
<circle cx="261.66" cy="407.93" r="1.3" fill="#ff0000"/>
<circle cx="262.05" cy="408.01" r="1.3" fill="#ff0000"/>
<circle cx="264.8" cy="408.33" r="1.3" fill="#ff0000"/>
<circle cx="266.33" cy="408.83" r="1.3" fill="#ff0000"/>
<circle cx="268.2" cy="408.71" r="1.3" fill="#ff0000"/>
<circle cx="270.46" cy="408.46" r="1.3" fill="#ff0000"/>
<circle cx="271.72" cy="409.89" r="1.3" fill="#ff0000"/>
<circle cx="273.95" cy="408.4" r="1.3" fill="#ff0000"/>
<circle cx="275.22" cy="409.3" r="1.3" fill="#ff0000"/>
<circle cx="277.51" cy="409.18" r="1.3" fill="#ff0000"/>
<circle cx="278.41" cy="408.84" r="1.3" fill="#ff0000"/>
<circle cx="280.64" cy="409.36" r="1.3" fill="#ff0000"/>
<circle cx="281.82" cy="409.17" r="1.3" fill="#ff0000"/>
<circle cx="283.56" cy="409.62" r="1.3" fill="#ff0000"/>
<circle cx="285.14" cy="409.54" r="1.3" fill="#ff0000"/>
<circle cx="291.4" cy="409.6" r="1.7" fill="#ff0000"/>
<circle cx="305.7" cy="409.6" r="1.7" fill="#ff0000"/>
<circle cx="321.4" cy="409.6" r="1.7" fill="#ff0000"/>
<circle cx="351.3" cy="409.6" r="1.7" fill="#ff0000"/>
<circle cx="382.7" cy="409.6" r="1.7" fill="#ff0000"/>
<circle cx="397.2" cy="409.6" r="1.7" fill="#ff0000"/>
<circle cx="412.6" cy="409.6" r="1.7" fill="#ff0000"/>
<path d="M250,407.2 L262,408.2 L275,408.9 L286,409.2 L291,409.4" stroke="#ff0000" stroke-width="2.4" fill="none" stroke-linecap="round"/>
<rect x="78" y="158.8" width="342.2" height="251.2" fill="none" stroke="#000" stroke-width="1.3"/>
<line x1="146.44" y1="410" x2="146.44" y2="405" stroke="#000" stroke-width="1.3" />
<line x1="214.88" y1="410" x2="214.88" y2="405" stroke="#000" stroke-width="1.3" />
<line x1="283.32" y1="410" x2="283.32" y2="405" stroke="#000" stroke-width="1.3" />
<line x1="351.76" y1="410" x2="351.76" y2="405" stroke="#000" stroke-width="1.3" />
<line x1="112.22" y1="410" x2="112.22" y2="406.8" stroke="#000" stroke-width="1.3" />
<line x1="180.66" y1="410" x2="180.66" y2="406.8" stroke="#000" stroke-width="1.3" />
<line x1="249.1" y1="410" x2="249.1" y2="406.8" stroke="#000" stroke-width="1.3" />
<line x1="317.54" y1="410" x2="317.54" y2="406.8" stroke="#000" stroke-width="1.3" />
<line x1="385.98" y1="410" x2="385.98" y2="406.8" stroke="#000" stroke-width="1.3" />
<line x1="146.44" y1="158.8" x2="146.44" y2="163.8" stroke="#000" stroke-width="1.3" />
<line x1="214.88" y1="158.8" x2="214.88" y2="163.8" stroke="#000" stroke-width="1.3" />
<line x1="283.32" y1="158.8" x2="283.32" y2="163.8" stroke="#000" stroke-width="1.3" />
<line x1="351.76" y1="158.8" x2="351.76" y2="163.8" stroke="#000" stroke-width="1.3" />
<line x1="112.22" y1="158.8" x2="112.22" y2="162" stroke="#000" stroke-width="1.3" />
<line x1="180.66" y1="158.8" x2="180.66" y2="162" stroke="#000" stroke-width="1.3" />
<line x1="249.1" y1="158.8" x2="249.1" y2="162" stroke="#000" stroke-width="1.3" />
<line x1="317.54" y1="158.8" x2="317.54" y2="162" stroke="#000" stroke-width="1.3" />
<line x1="385.98" y1="158.8" x2="385.98" y2="162" stroke="#000" stroke-width="1.3" />
<line x1="78" y1="284.4" x2="83" y2="284.4" stroke="#000" stroke-width="1.3" />
<line x1="78" y1="347.2" x2="81.2" y2="347.2" stroke="#000" stroke-width="1.3" />
<line x1="78" y1="221.6" x2="81.2" y2="221.6" stroke="#000" stroke-width="1.3" />
<line x1="420.2" y1="347.2" x2="415.2" y2="347.2" stroke="#000" stroke-width="1.3" />
<line x1="420.2" y1="284.4" x2="415.2" y2="284.4" stroke="#000" stroke-width="1.3" />
<line x1="420.2" y1="221.6" x2="415.2" y2="221.6" stroke="#000" stroke-width="1.3" />
<line x1="420.2" y1="378.6" x2="417" y2="378.6" stroke="#000" stroke-width="1.3" />
<line x1="420.2" y1="315.8" x2="417" y2="315.8" stroke="#000" stroke-width="1.3" />
<line x1="420.2" y1="253" x2="417" y2="253" stroke="#000" stroke-width="1.3" />
<line x1="420.2" y1="190.2" x2="417" y2="190.2" stroke="#000" stroke-width="1.3" />
<text x="72.6" y="414.7" font-size="14" fill="#000" text-anchor="end"  >0</text>
<text x="72.6" y="289.1" font-size="14" fill="#000" text-anchor="end"  >5</text>
<text x="72.6" y="163.5" font-size="14" fill="#000" text-anchor="end"  >10</text>
<text x="425.6" y="414.7" font-size="14" fill="#000" text-anchor="start"  >0</text>
<text x="425.6" y="351.9" font-size="14" fill="#000" text-anchor="start"  >2</text>
<text x="425.6" y="289.1" font-size="14" fill="#000" text-anchor="start"  >4</text>
<text x="425.6" y="226.3" font-size="14" fill="#000" text-anchor="start"  >6</text>
<text x="425.6" y="163.5" font-size="14" fill="#000" text-anchor="start"  >8</text>
<text x="78" y="426.6" font-size="14" fill="#000" text-anchor="middle"  >0</text>
<text x="146.44" y="426.6" font-size="14" fill="#000" text-anchor="middle"  >1</text>
<text x="214.88" y="426.6" font-size="14" fill="#000" text-anchor="middle"  >2</text>
<text x="283.32" y="426.6" font-size="14" fill="#000" text-anchor="middle"  >3</text>
<text x="351.76" y="426.6" font-size="14" fill="#000" text-anchor="middle"  >4</text>
<text x="420.2" y="426.6" font-size="14" fill="#000" text-anchor="middle"  >5</text>
<text x="249.3" y="446.5" font-size="20" fill="#000" text-anchor="middle"  >T (K)</text>
<g transform="translate(45.7,332.2) rotate(-90)"><text x="0" y="0" font-size="20">R</text><rect x="14.6" y="1.6" width="6.6" height="6.6" fill="none" stroke="#999" stroke-width="0.8"/><text x="26.4" y="0" font-size="20.3" textLength="40" lengthAdjust="spacingAndGlyphs">(kΩ)</text></g>
<g transform="translate(444.2,255.3) rotate(90)"><text x="0" y="0" font-size="20" stroke="#000" stroke-width="0.3">ν (μV/TK)</text></g>
<text x="83.8" y="178.3" font-size="18" fill="#000" text-anchor="start"  >(c)</text>
<text x="371.8" y="183.6" font-size="19">InO<tspan font-size="12" dy="5.2" dx="2.5">x</tspan></text>
<text x="197" y="187.6" font-size="18.5" fill="#008000" text-anchor="start" font-style="italic" >B=5 T</text>
<line x1="172.8" y1="189.3" x2="192" y2="183" stroke="#008000" stroke-width="1.0" />
<text x="198" y="302.7" font-size="18.6" fill="#000" text-anchor="start" font-style="italic" >B=0 T</text>
<line x1="177.6" y1="285.2" x2="194.3" y2="293.5" stroke="#000" stroke-width="0.9" />
<text x="199.8" y="360.8" font-size="15.6" fill="#ff0000" text-anchor="start"  >ν (0.2 T)</text>
<line x1="202.6" y1="371.6" x2="255.4" y2="371.6" stroke="#ff0000" stroke-width="2.3" />
<path d="M243.4,364.2 L256.8,371.6 L243.4,379" stroke="#ff0000" stroke-width="2.2" fill="none" />
<rect x="297.1" y="316.8" width="102.59999999999997" height="75.80000000000001" fill="#fff" stroke="#777" stroke-width="0.8"/>
<line x1="322.75" y1="392.6" x2="322.75" y2="391" stroke="#777" stroke-width="0.7" />
<line x1="322.75" y1="316.8" x2="322.75" y2="318.4" stroke="#777" stroke-width="0.7" />
<line x1="348.4" y1="392.6" x2="348.4" y2="390" stroke="#777" stroke-width="0.7" />
<line x1="348.4" y1="316.8" x2="348.4" y2="319.4" stroke="#777" stroke-width="0.7" />
<line x1="374.05" y1="392.6" x2="374.05" y2="391" stroke="#777" stroke-width="0.7" />
<line x1="374.05" y1="316.8" x2="374.05" y2="318.4" stroke="#777" stroke-width="0.7" />
<line x1="297.1" y1="392.1" x2="299.7" y2="392.1" stroke="#777" stroke-width="0.7" />
<line x1="399.7" y1="392.1" x2="397.1" y2="392.1" stroke="#777" stroke-width="0.7" />
<line x1="297.1" y1="387.24" x2="298.5" y2="387.24" stroke="#999" stroke-width="0.5" />
<line x1="399.7" y1="387.24" x2="398.3" y2="387.24" stroke="#999" stroke-width="0.5" />
<line x1="297.1" y1="384.39" x2="298.5" y2="384.39" stroke="#999" stroke-width="0.5" />
<line x1="399.7" y1="384.39" x2="398.3" y2="384.39" stroke="#999" stroke-width="0.5" />
<line x1="297.1" y1="382.38" x2="298.5" y2="382.38" stroke="#999" stroke-width="0.5" />
<line x1="399.7" y1="382.38" x2="398.3" y2="382.38" stroke="#999" stroke-width="0.5" />
<line x1="297.1" y1="380.81" x2="298.5" y2="380.81" stroke="#999" stroke-width="0.5" />
<line x1="399.7" y1="380.81" x2="398.3" y2="380.81" stroke="#999" stroke-width="0.5" />
<line x1="297.1" y1="379.53" x2="298.5" y2="379.53" stroke="#999" stroke-width="0.5" />
<line x1="399.7" y1="379.53" x2="398.3" y2="379.53" stroke="#999" stroke-width="0.5" />
<line x1="297.1" y1="378.45" x2="298.5" y2="378.45" stroke="#999" stroke-width="0.5" />
<line x1="399.7" y1="378.45" x2="398.3" y2="378.45" stroke="#999" stroke-width="0.5" />
<line x1="297.1" y1="377.52" x2="298.5" y2="377.52" stroke="#999" stroke-width="0.5" />
<line x1="399.7" y1="377.52" x2="398.3" y2="377.52" stroke="#999" stroke-width="0.5" />
<line x1="297.1" y1="376.69" x2="298.5" y2="376.69" stroke="#999" stroke-width="0.5" />
<line x1="399.7" y1="376.69" x2="398.3" y2="376.69" stroke="#999" stroke-width="0.5" />
<line x1="297.1" y1="375.95" x2="299.7" y2="375.95" stroke="#777" stroke-width="0.7" />
<line x1="399.7" y1="375.95" x2="397.1" y2="375.95" stroke="#777" stroke-width="0.7" />
<line x1="297.1" y1="371.09" x2="298.5" y2="371.09" stroke="#999" stroke-width="0.5" />
<line x1="399.7" y1="371.09" x2="398.3" y2="371.09" stroke="#999" stroke-width="0.5" />
<line x1="297.1" y1="368.24" x2="298.5" y2="368.24" stroke="#999" stroke-width="0.5" />
<line x1="399.7" y1="368.24" x2="398.3" y2="368.24" stroke="#999" stroke-width="0.5" />
<line x1="297.1" y1="366.23" x2="298.5" y2="366.23" stroke="#999" stroke-width="0.5" />
<line x1="399.7" y1="366.23" x2="398.3" y2="366.23" stroke="#999" stroke-width="0.5" />
<line x1="297.1" y1="364.66" x2="298.5" y2="364.66" stroke="#999" stroke-width="0.5" />
<line x1="399.7" y1="364.66" x2="398.3" y2="364.66" stroke="#999" stroke-width="0.5" />
<line x1="297.1" y1="363.38" x2="298.5" y2="363.38" stroke="#999" stroke-width="0.5" />
<line x1="399.7" y1="363.38" x2="398.3" y2="363.38" stroke="#999" stroke-width="0.5" />
<line x1="297.1" y1="362.3" x2="298.5" y2="362.3" stroke="#999" stroke-width="0.5" />
<line x1="399.7" y1="362.3" x2="398.3" y2="362.3" stroke="#999" stroke-width="0.5" />
<line x1="297.1" y1="361.37" x2="298.5" y2="361.37" stroke="#999" stroke-width="0.5" />
<line x1="399.7" y1="361.37" x2="398.3" y2="361.37" stroke="#999" stroke-width="0.5" />
<line x1="297.1" y1="360.54" x2="298.5" y2="360.54" stroke="#999" stroke-width="0.5" />
<line x1="399.7" y1="360.54" x2="398.3" y2="360.54" stroke="#999" stroke-width="0.5" />
<line x1="297.1" y1="359.8" x2="299.7" y2="359.8" stroke="#777" stroke-width="0.7" />
<line x1="399.7" y1="359.8" x2="397.1" y2="359.8" stroke="#777" stroke-width="0.7" />
<line x1="297.1" y1="354.94" x2="298.5" y2="354.94" stroke="#999" stroke-width="0.5" />
<line x1="399.7" y1="354.94" x2="398.3" y2="354.94" stroke="#999" stroke-width="0.5" />
<line x1="297.1" y1="352.09" x2="298.5" y2="352.09" stroke="#999" stroke-width="0.5" />
<line x1="399.7" y1="352.09" x2="398.3" y2="352.09" stroke="#999" stroke-width="0.5" />
<line x1="297.1" y1="350.08" x2="298.5" y2="350.08" stroke="#999" stroke-width="0.5" />
<line x1="399.7" y1="350.08" x2="398.3" y2="350.08" stroke="#999" stroke-width="0.5" />
<line x1="297.1" y1="348.51" x2="298.5" y2="348.51" stroke="#999" stroke-width="0.5" />
<line x1="399.7" y1="348.51" x2="398.3" y2="348.51" stroke="#999" stroke-width="0.5" />
<line x1="297.1" y1="347.23" x2="298.5" y2="347.23" stroke="#999" stroke-width="0.5" />
<line x1="399.7" y1="347.23" x2="398.3" y2="347.23" stroke="#999" stroke-width="0.5" />
<line x1="297.1" y1="346.15" x2="298.5" y2="346.15" stroke="#999" stroke-width="0.5" />
<line x1="399.7" y1="346.15" x2="398.3" y2="346.15" stroke="#999" stroke-width="0.5" />
<line x1="297.1" y1="345.22" x2="298.5" y2="345.22" stroke="#999" stroke-width="0.5" />
<line x1="399.7" y1="345.22" x2="398.3" y2="345.22" stroke="#999" stroke-width="0.5" />
<line x1="297.1" y1="344.39" x2="298.5" y2="344.39" stroke="#999" stroke-width="0.5" />
<line x1="399.7" y1="344.39" x2="398.3" y2="344.39" stroke="#999" stroke-width="0.5" />
<line x1="297.1" y1="343.65" x2="299.7" y2="343.65" stroke="#777" stroke-width="0.7" />
<line x1="399.7" y1="343.65" x2="397.1" y2="343.65" stroke="#777" stroke-width="0.7" />
<line x1="297.1" y1="338.79" x2="298.5" y2="338.79" stroke="#999" stroke-width="0.5" />
<line x1="399.7" y1="338.79" x2="398.3" y2="338.79" stroke="#999" stroke-width="0.5" />
<line x1="297.1" y1="335.94" x2="298.5" y2="335.94" stroke="#999" stroke-width="0.5" />
<line x1="399.7" y1="335.94" x2="398.3" y2="335.94" stroke="#999" stroke-width="0.5" />
<line x1="297.1" y1="333.93" x2="298.5" y2="333.93" stroke="#999" stroke-width="0.5" />
<line x1="399.7" y1="333.93" x2="398.3" y2="333.93" stroke="#999" stroke-width="0.5" />
<line x1="297.1" y1="332.36" x2="298.5" y2="332.36" stroke="#999" stroke-width="0.5" />
<line x1="399.7" y1="332.36" x2="398.3" y2="332.36" stroke="#999" stroke-width="0.5" />
<line x1="297.1" y1="331.08" x2="298.5" y2="331.08" stroke="#999" stroke-width="0.5" />
<line x1="399.7" y1="331.08" x2="398.3" y2="331.08" stroke="#999" stroke-width="0.5" />
<line x1="297.1" y1="330" x2="298.5" y2="330" stroke="#999" stroke-width="0.5" />
<line x1="399.7" y1="330" x2="398.3" y2="330" stroke="#999" stroke-width="0.5" />
<line x1="297.1" y1="329.07" x2="298.5" y2="329.07" stroke="#999" stroke-width="0.5" />
<line x1="399.7" y1="329.07" x2="398.3" y2="329.07" stroke="#999" stroke-width="0.5" />
<line x1="297.1" y1="328.24" x2="298.5" y2="328.24" stroke="#999" stroke-width="0.5" />
<line x1="399.7" y1="328.24" x2="398.3" y2="328.24" stroke="#999" stroke-width="0.5" />
<line x1="297.1" y1="327.5" x2="299.7" y2="327.5" stroke="#777" stroke-width="0.7" />
<line x1="399.7" y1="327.5" x2="397.1" y2="327.5" stroke="#777" stroke-width="0.7" />
<line x1="297.1" y1="322.64" x2="298.5" y2="322.64" stroke="#999" stroke-width="0.5" />
<line x1="399.7" y1="322.64" x2="398.3" y2="322.64" stroke="#999" stroke-width="0.5" />
<line x1="297.1" y1="319.79" x2="298.5" y2="319.79" stroke="#999" stroke-width="0.5" />
<line x1="399.7" y1="319.79" x2="398.3" y2="319.79" stroke="#999" stroke-width="0.5" />
<line x1="297.1" y1="317.78" x2="298.5" y2="317.78" stroke="#999" stroke-width="0.5" />
<line x1="399.7" y1="317.78" x2="398.3" y2="317.78" stroke="#999" stroke-width="0.5" />
<text x="401.9" y="395.7" font-size="10.5" textLength="9.4" lengthAdjust="spacingAndGlyphs">10</text>
<text x="411.4" y="390.8" font-size="5.6">-5</text>
<text x="401.9" y="379.55" font-size="10.5" textLength="9.4" lengthAdjust="spacingAndGlyphs">10</text>
<text x="411.4" y="374.65" font-size="5.6">-4</text>
<text x="401.9" y="363.4" font-size="10.5" textLength="9.4" lengthAdjust="spacingAndGlyphs">10</text>
<text x="411.4" y="358.5" font-size="5.6">-3</text>
<text x="401.9" y="347.25" font-size="10.5" textLength="9.4" lengthAdjust="spacingAndGlyphs">10</text>
<text x="411.4" y="342.35" font-size="5.6">-2</text>
<text x="401.9" y="331.1" font-size="10.5" textLength="9.4" lengthAdjust="spacingAndGlyphs">10</text>
<text x="411.4" y="326.2" font-size="5.6">-1</text>
<text x="297.1" y="405.6" font-size="13" fill="#000" text-anchor="middle"  >2</text>
<text x="348.4" y="405.6" font-size="13" fill="#000" text-anchor="middle"  >3</text>
<text x="399.7" y="405.6" font-size="13" fill="#000" text-anchor="middle"  >4</text>
<clipPath id="ic"><rect x="297.1" y="316.8" width="102.59999999999997" height="75.80000000000001"/></clipPath>
<g clip-path="url(#ic)">
<path d="M297.1,317.3 L353.5,336 L365,338.6 L376.5,337.4 L399.7,340.2" stroke="#333" stroke-width="0.5" fill="none" />
<circle cx="297.73" cy="317.26" r="1.45" fill="#ff0000"/>
<circle cx="299.58" cy="317.72" r="1.45" fill="#ff0000"/>
<circle cx="300.13" cy="319.31" r="1.45" fill="#ff0000"/>
<circle cx="301.08" cy="318.32" r="1.45" fill="#ff0000"/>
<circle cx="302.66" cy="318.9" r="1.45" fill="#ff0000"/>
<circle cx="303.49" cy="319.4" r="1.45" fill="#ff0000"/>
<circle cx="304.99" cy="320.38" r="1.45" fill="#ff0000"/>
<circle cx="305.85" cy="319.85" r="1.45" fill="#ff0000"/>
<circle cx="307.95" cy="322.17" r="1.45" fill="#ff0000"/>
<circle cx="308.4" cy="321.69" r="1.45" fill="#ff0000"/>
<circle cx="309.81" cy="320.94" r="1.45" fill="#ff0000"/>
<circle cx="311.09" cy="321.69" r="1.45" fill="#ff0000"/>
<circle cx="312.9" cy="323.02" r="1.45" fill="#ff0000"/>
<circle cx="313.87" cy="322.55" r="1.45" fill="#ff0000"/>
<circle cx="315.1" cy="323.18" r="1.45" fill="#ff0000"/>
<circle cx="316.59" cy="323.13" r="1.45" fill="#ff0000"/>
<circle cx="317.6" cy="324.01" r="1.45" fill="#ff0000"/>
<circle cx="318.83" cy="324.74" r="1.45" fill="#ff0000"/>
<circle cx="320.16" cy="326.16" r="1.45" fill="#ff0000"/>
<circle cx="321.32" cy="326.81" r="1.45" fill="#ff0000"/>
<circle cx="322.51" cy="325.3" r="1.45" fill="#ff0000"/>
<circle cx="323.88" cy="326.52" r="1.45" fill="#ff0000"/>
<circle cx="325.18" cy="327.87" r="1.45" fill="#ff0000"/>
<circle cx="326.69" cy="327.5" r="1.45" fill="#ff0000"/>
<circle cx="327.5" cy="327.31" r="1.45" fill="#ff0000"/>
<circle cx="329.27" cy="328.06" r="1.45" fill="#ff0000"/>
<circle cx="329.71" cy="327.5" r="1.45" fill="#ff0000"/>
<circle cx="331.18" cy="329.91" r="1.45" fill="#ff0000"/>
<circle cx="332.57" cy="331.56" r="1.45" fill="#ff0000"/>
<circle cx="334.05" cy="329.62" r="1.45" fill="#ff0000"/>
<circle cx="334.97" cy="331.01" r="1.45" fill="#ff0000"/>
<circle cx="336.28" cy="329.36" r="1.45" fill="#ff0000"/>
<circle cx="337.77" cy="330.74" r="1.45" fill="#ff0000"/>
<circle cx="339.21" cy="331.05" r="1.45" fill="#ff0000"/>
<circle cx="339.24" cy="332.51" r="1.45" fill="#ff0000"/>
<circle cx="340.79" cy="333.86" r="1.45" fill="#ff0000"/>
<circle cx="343.15" cy="331.85" r="1.45" fill="#ff0000"/>
<circle cx="343.5" cy="331.04" r="1.45" fill="#ff0000"/>
<circle cx="345.36" cy="332.96" r="1.45" fill="#ff0000"/>
<circle cx="346.17" cy="333.31" r="1.45" fill="#ff0000"/>
<circle cx="348.23" cy="334.5" r="1.45" fill="#ff0000"/>
<circle cx="349.07" cy="335.49" r="1.45" fill="#ff0000"/>
<circle cx="350.41" cy="336.31" r="1.45" fill="#ff0000"/>
<circle cx="351.14" cy="334.99" r="1.45" fill="#ff0000"/>
<circle cx="352.37" cy="334.72" r="1.45" fill="#ff0000"/>
<circle cx="365" cy="338.6" r="1.35" fill="#ff0000"/>
<circle cx="376.5" cy="337.4" r="1.35" fill="#ff0000"/>
<circle cx="298.2" cy="386.69" r="1.05" fill="#fff" stroke="#0000ff" stroke-width="0.5"/>
<circle cx="300.25" cy="386.27" r="1.05" fill="#fff" stroke="#0000ff" stroke-width="0.5"/>
<circle cx="302.3" cy="386.38" r="1.05" fill="#fff" stroke="#0000ff" stroke-width="0.5"/>
<circle cx="304.35" cy="386.23" r="1.05" fill="#fff" stroke="#0000ff" stroke-width="0.5"/>
<circle cx="306.4" cy="386.25" r="1.05" fill="#fff" stroke="#0000ff" stroke-width="0.5"/>
<circle cx="308.45" cy="386.6" r="1.05" fill="#fff" stroke="#0000ff" stroke-width="0.5"/>
<circle cx="310.5" cy="386.29" r="1.05" fill="#fff" stroke="#0000ff" stroke-width="0.5"/>
<circle cx="312.55" cy="386.28" r="1.05" fill="#fff" stroke="#0000ff" stroke-width="0.5"/>
<circle cx="314.6" cy="386.52" r="1.05" fill="#fff" stroke="#0000ff" stroke-width="0.5"/>
<circle cx="316.65" cy="386.53" r="1.05" fill="#fff" stroke="#0000ff" stroke-width="0.5"/>
<circle cx="318.7" cy="386.6" r="1.05" fill="#fff" stroke="#0000ff" stroke-width="0.5"/>
<circle cx="320.75" cy="386.44" r="1.05" fill="#fff" stroke="#0000ff" stroke-width="0.5"/>
<circle cx="322.8" cy="385.96" r="1.05" fill="#fff" stroke="#0000ff" stroke-width="0.5"/>
<circle cx="324.85" cy="386.56" r="1.05" fill="#fff" stroke="#0000ff" stroke-width="0.5"/>
<circle cx="326.9" cy="386.52" r="1.05" fill="#fff" stroke="#0000ff" stroke-width="0.5"/>
<circle cx="328.95" cy="386.65" r="1.05" fill="#fff" stroke="#0000ff" stroke-width="0.5"/>
<circle cx="331" cy="386.19" r="1.05" fill="#fff" stroke="#0000ff" stroke-width="0.5"/>
<circle cx="333.05" cy="387.03" r="1.05" fill="#fff" stroke="#0000ff" stroke-width="0.5"/>
<circle cx="335.1" cy="386.09" r="1.05" fill="#fff" stroke="#0000ff" stroke-width="0.5"/>
<circle cx="339.2" cy="386.41" r="1.05" fill="#fff" stroke="#0000ff" stroke-width="0.5"/>
<circle cx="341.25" cy="386.28" r="1.05" fill="#fff" stroke="#0000ff" stroke-width="0.5"/>
<circle cx="343.3" cy="386.6" r="1.05" fill="#fff" stroke="#0000ff" stroke-width="0.5"/>
<circle cx="347.4" cy="385.75" r="1.05" fill="#fff" stroke="#0000ff" stroke-width="0.5"/>
<circle cx="349.45" cy="385.98" r="1.05" fill="#fff" stroke="#0000ff" stroke-width="0.5"/>
<circle cx="351.5" cy="386.33" r="1.05" fill="#fff" stroke="#0000ff" stroke-width="0.5"/>
<circle cx="353.55" cy="386.71" r="1.05" fill="#fff" stroke="#0000ff" stroke-width="0.5"/>
<circle cx="355.6" cy="385.72" r="1.05" fill="#fff" stroke="#0000ff" stroke-width="0.5"/>
<circle cx="357.65" cy="386.03" r="1.05" fill="#fff" stroke="#0000ff" stroke-width="0.5"/>
<circle cx="359.7" cy="386.34" r="1.05" fill="#fff" stroke="#0000ff" stroke-width="0.5"/>
<circle cx="361.75" cy="386.06" r="1.05" fill="#fff" stroke="#0000ff" stroke-width="0.5"/>
<circle cx="363.8" cy="385.76" r="1.05" fill="#fff" stroke="#0000ff" stroke-width="0.5"/>
<circle cx="365.85" cy="385.44" r="1.05" fill="#fff" stroke="#0000ff" stroke-width="0.5"/>
<circle cx="367.9" cy="385.29" r="1.05" fill="#fff" stroke="#0000ff" stroke-width="0.5"/>
<circle cx="369.95" cy="385.49" r="1.05" fill="#fff" stroke="#0000ff" stroke-width="0.5"/>
<circle cx="372" cy="385.52" r="1.05" fill="#fff" stroke="#0000ff" stroke-width="0.5"/>
<circle cx="374.05" cy="384.99" r="1.05" fill="#fff" stroke="#0000ff" stroke-width="0.5"/>
<circle cx="376.1" cy="385.07" r="1.05" fill="#fff" stroke="#0000ff" stroke-width="0.5"/>
<circle cx="378.15" cy="385.51" r="1.05" fill="#fff" stroke="#0000ff" stroke-width="0.5"/>
<circle cx="380.2" cy="385.27" r="1.05" fill="#fff" stroke="#0000ff" stroke-width="0.5"/>
<circle cx="382.25" cy="385.13" r="1.05" fill="#fff" stroke="#0000ff" stroke-width="0.5"/>
<circle cx="384.3" cy="385.15" r="1.05" fill="#fff" stroke="#0000ff" stroke-width="0.5"/>
<circle cx="386.35" cy="384.99" r="1.05" fill="#fff" stroke="#0000ff" stroke-width="0.5"/>
<circle cx="388.4" cy="385.37" r="1.05" fill="#fff" stroke="#0000ff" stroke-width="0.5"/>
<circle cx="390.45" cy="385.49" r="1.05" fill="#fff" stroke="#0000ff" stroke-width="0.5"/>
<circle cx="392.5" cy="385.54" r="1.05" fill="#fff" stroke="#0000ff" stroke-width="0.5"/>
<circle cx="394.55" cy="385.14" r="1.05" fill="#fff" stroke="#0000ff" stroke-width="0.5"/>
<circle cx="396.6" cy="385.09" r="1.05" fill="#fff" stroke="#0000ff" stroke-width="0.5"/>
<circle cx="398.65" cy="385.21" r="1.05" fill="#fff" stroke="#0000ff" stroke-width="0.5"/>
</g>
<text x="305.9" y="375.3" font-size="14.2" fill="#0000ff" stroke="#0000ff" stroke-width="0.2" textLength="37.4" lengthAdjust="spacingAndGlyphs">S tanΘ</text>
<text x="343.3" y="380.8" font-size="7.2" fill="#0000ff" font-weight="bold">H</text>
</svg>
</body></html>
